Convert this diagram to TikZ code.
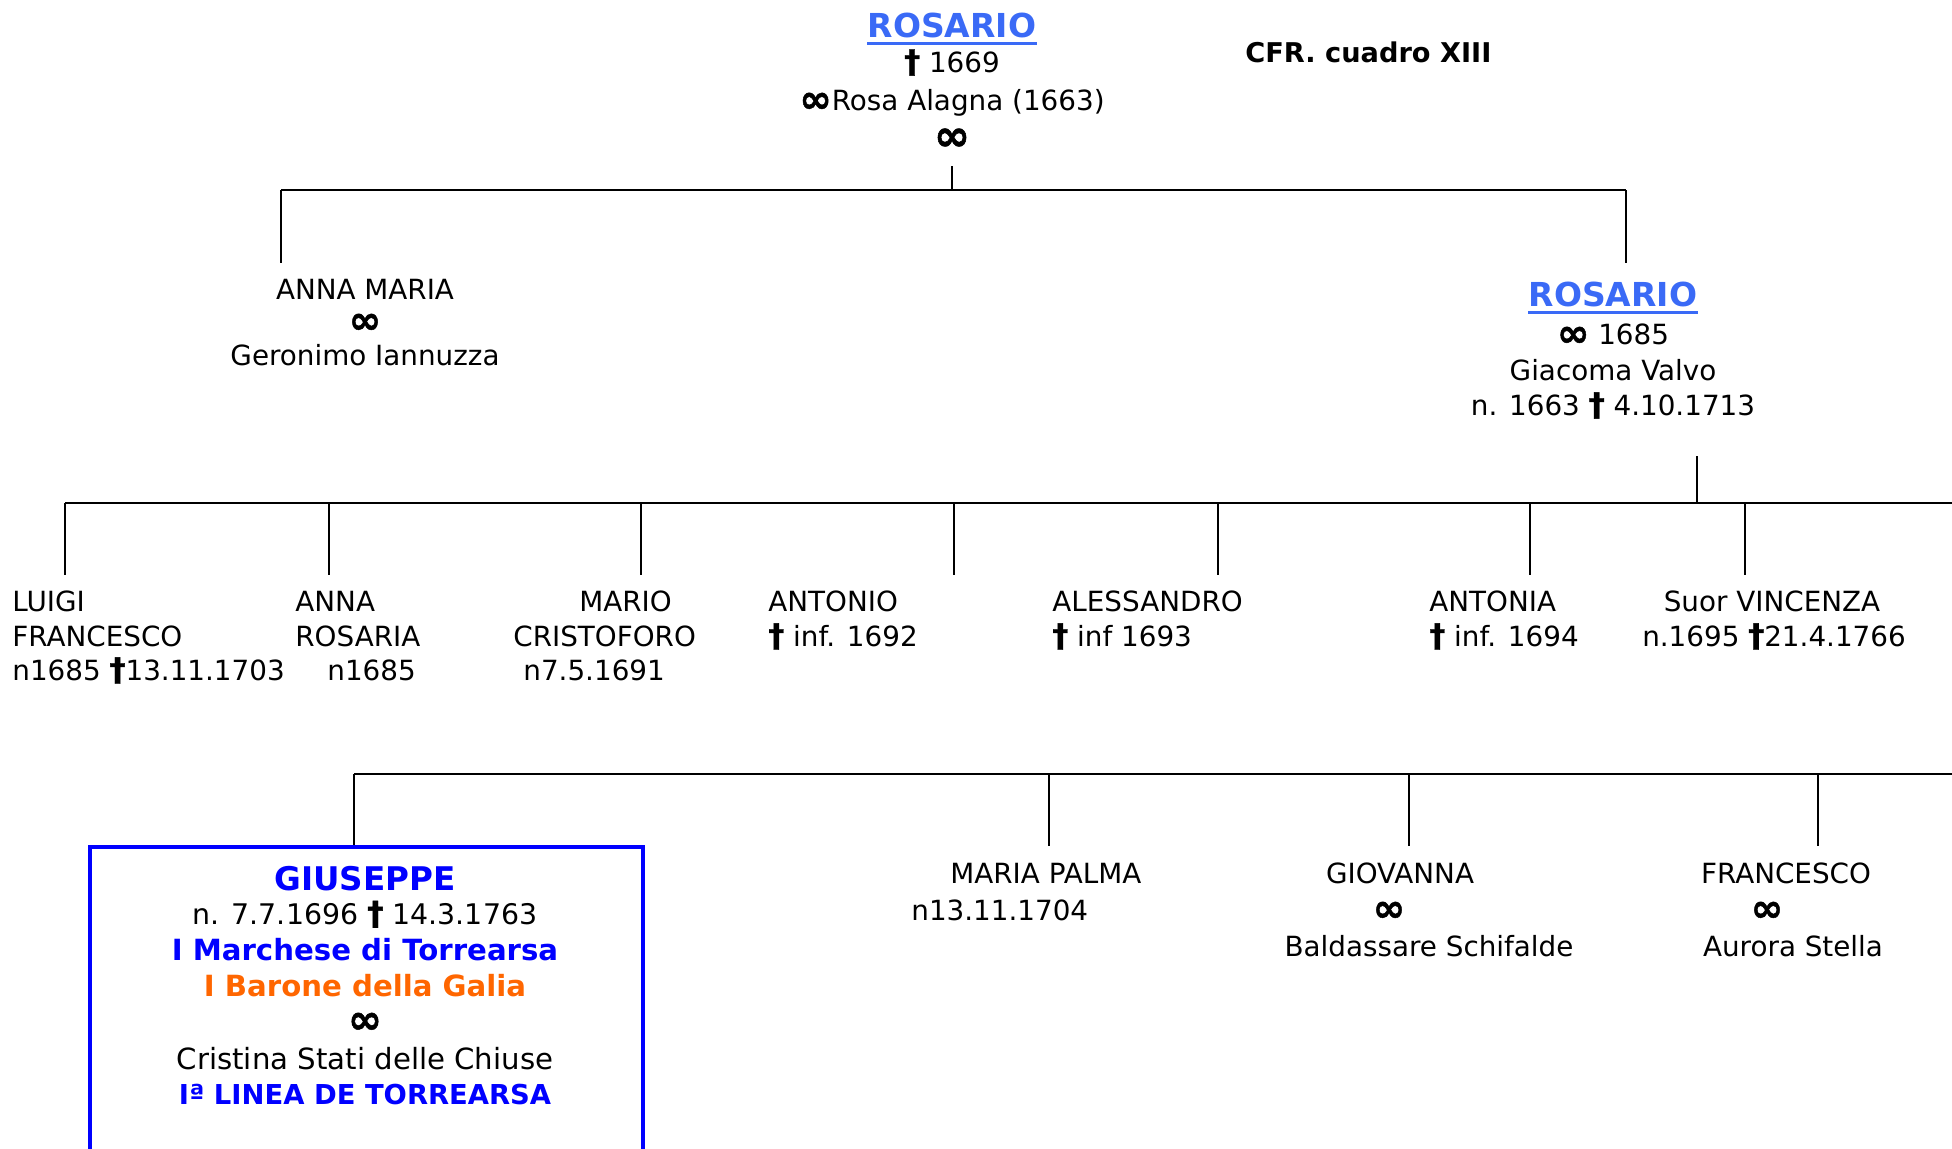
\documentclass[tikz,border=0pt]{standalone}
\usepackage{fontspec}
\usepackage{graphicx}
\setmainfont{DejaVu Sans}
\newfontfamily\symheavy[FakeBold=1.2]{DejaVu Sans Bold}
\newcommand{\dcross}{\raisebox{-0.3pt}{\scalebox{1.15}{\symheavy †}}}
\newcommand{\infsym}{\raisebox{-1.2pt}{\scalebox{1.4}{\symheavy ∞}}}
\definecolor{linkblue}{RGB}{58,106,246}
\definecolor{titleblue}{RGB}{0,0,255}
\definecolor{baronorange}{RGB}{255,102,0}
\tikzset{
  txt/.style={inner sep=0pt, anchor=base, font=\fontsize{13.9}{16.5}\selectfont},
  txtl/.style={txt, anchor=base west},
  boxtxt/.style={inner sep=0pt, anchor=base, font=\fontsize{14.6}{18}\selectfont},
  boxbold/.style={boxtxt, font=\fontsize{14.6}{18}\selectfont\bfseries},
  headname/.style={inner sep=0pt, anchor=base, text=linkblue, font=\fontsize{16.5}{20}\selectfont\bfseries},
  bigmarr/.style={inner sep=0pt, anchor=base, font=\fontsize{15.5}{20}\selectfont},
  ulink/.style={draw=linkblue, line width=1.5pt},
  wire/.style={draw=black, line width=0.9pt},
}
\begin{document}
\begin{tikzpicture}[x=0.5pt, y=-0.5pt]
\path[use as bounding box] (0,0) rectangle (1952,1148);
\clip (0,0) rectangle (1952,1148);

% ---- first generation ----
\node[headname] (rosA) at (952,37) {ROSARIO};
\draw[ulink] ([yshift=-3pt]rosA.base west) -- ([yshift=-3pt]rosA.base east);
\node[txt] (rosAd) at (952,72) {\dcross\ 1669};
\node[txt] (rosAm) at (952,110) {\infsym Rosa Alagna (1663)};
\node[bigmarr] (rosAi) at (952,148) {\infsym};
\node[txtl, font=\fontsize{13.6}{16.5}\selectfont\bfseries] (cfr) at (1245,62) {CFR. cuadro XIII};

\coordinate (rosAdrop) at (952,166);
\coordinate (bus1) at (952,190);
\coordinate (bus1l) at (281,190);
\coordinate (bus1r) at (1626,190);
\coordinate (annaTop) at (281,263);
\coordinate (rosBTop) at (1626,263);
\draw[wire] (rosAdrop) -- (bus1);
\draw[wire] (bus1l) -- (bus1r);
\draw[wire] (bus1l) -- (annaTop);
\draw[wire] (bus1r) -- (rosBTop);

% ---- second generation ----
\node[txt] (annaA) at (365,299) {ANNA MARIA};
\node[txt] (annaB) at (365,331) {\infsym};
\node[txt] (annaC) at (365,365) {Geronimo Iannuzza};

\node[headname] (rosB) at (1613,306) {ROSARIO};
\draw[ulink] ([yshift=-3pt]rosB.base west) -- ([yshift=-3pt]rosB.base east);
\node[txt] (rosBa) at (1613,344) {\infsym\ 1685};
\node[txt] (rosBb) at (1613,380) {Giacoma Valvo};
\node[txt] (rosBc) at (1613,415) {n. 1663 \dcross\ 4.10.1713};

\coordinate (rosBdrop) at (1697,456);
\coordinate (bus2) at (1697,503);
\coordinate (bus2l) at (65,503);
\coordinate (bus2r) at (1952,503);
\draw[wire] (rosBdrop) -- (bus2);
\draw[wire] (bus2l) -- (bus2r);
\coordinate (c1a) at (65,503);   \coordinate (c1b) at (65,575);
\coordinate (c2a) at (329,503);  \coordinate (c2b) at (329,575);
\coordinate (c3a) at (641,503);  \coordinate (c3b) at (641,575);
\coordinate (c4a) at (954,503);  \coordinate (c4b) at (954,575);
\coordinate (c5a) at (1218,503); \coordinate (c5b) at (1218,575);
\coordinate (c6a) at (1530,503); \coordinate (c6b) at (1530,575);
\coordinate (c7a) at (1745,503); \coordinate (c7b) at (1745,575);
\draw[wire] (c1a) -- (c1b);
\draw[wire] (c2a) -- (c2b);
\draw[wire] (c3a) -- (c3b);
\draw[wire] (c4a) -- (c4b);
\draw[wire] (c5a) -- (c5b);
\draw[wire] (c6a) -- (c6b);
\draw[wire] (c7a) -- (c7b);

% ---- third generation ----
\node[txtl] (luigiA) at (12,611) {LUIGI};
\node[txtl] (luigiB) at (12,646) {FRANCESCO};
\node[txtl] (luigiC) at (12,680) {n1685 \dcross13.11.1703};

\node[txtl] (annrA) at (295,611) {ANNA};
\node[txtl] (annrB) at (295,646) {ROSARIA};
\node[txtl] (annrC) at (327,680) {n1685};

\node[txtl] (marioA) at (579,611) {MARIO};
\node[txtl] (marioB) at (513,646) {CRISTOFORO};
\node[txtl] (marioC) at (523,680) {n7.5.1691};

\node[txtl] (antoA) at (768,611) {ANTONIO};
\node[txtl] (antoB) at (768,646) {\dcross\ inf. 1692};

\node[txtl] (alesA) at (1052,611) {ALESSANDRO};
\node[txtl] (alesB) at (1052,646) {\dcross\ inf 1693};

\node[txtl] (antaA) at (1429,611) {ANTONIA};
\node[txtl] (antaB) at (1429,646) {\dcross\ inf. 1694};

\node[txt] (vincA) at (1772,611) {Suor VINCENZA};
\node[txt] (vincB) at (1774,646) {n.1695 \dcross21.4.1766};

% ---- fourth generation ----
\coordinate (bus3l) at (354,774);
\coordinate (bus3r) at (1952,774);
\draw[wire] (bus3l) -- (bus3r);

\node[draw=titleblue, line width=2pt, inner sep=0pt, anchor=north west,
      minimum width=276.5pt, minimum height=160pt] (gbox) at (88,845) {};
\draw[wire] (bus3l) -- (bus3l |- gbox.north);

\node[boxtxt, text=titleblue, font=\fontsize{16.3}{20}\selectfont\bfseries] (gA) at (365,890) {GIUSEPPE};
\node[boxtxt, font=\fontsize{14.2}{18}\selectfont] (gB) at (365,924) {n. 7.7.1696 \dcross\ 14.3.1763};
\node[boxbold, text=titleblue] (gC) at (365,960) {I Marchese di Torrearsa};
\node[boxbold, text=baronorange] (gD) at (365,996) {I Barone della Galia};
\node[boxtxt] (gE) at (365,1031) {\infsym};
\node[boxtxt] (gF) at (365,1069) {Cristina Stati delle Chiuse};
\node[boxbold, text=titleblue, font=\fontsize{13.7}{18}\selectfont\bfseries] (gG) at (365,1104) {Iª LINEA DE TORREARSA};

\coordinate (d2a) at (1049,774); \coordinate (d2b) at (1049,846);
\coordinate (d3a) at (1409,774); \coordinate (d3b) at (1409,846);
\coordinate (d4a) at (1818,774); \coordinate (d4b) at (1818,846);
\draw[wire] (d2a) -- (d2b);
\draw[wire] (d3a) -- (d3b);
\draw[wire] (d4a) -- (d4b);

\node[txtl] (palmaA) at (950,883) {MARIA PALMA};
\node[txtl] (palmaB) at (911,920) {n13.11.1704};

\node[txt] (giovA) at (1400,883) {GIOVANNA};
\node[txt] (giovB) at (1389,919) {\infsym};
\node[txt] (giovC) at (1429,956) {Baldassare Schifalde};

\node[txt] (franA) at (1786,883) {FRANCESCO};
\node[txt] (franB) at (1767,919) {\infsym};
\node[txt] (franC) at (1793,956) {Aurora Stella};
\end{tikzpicture}
\end{document}
